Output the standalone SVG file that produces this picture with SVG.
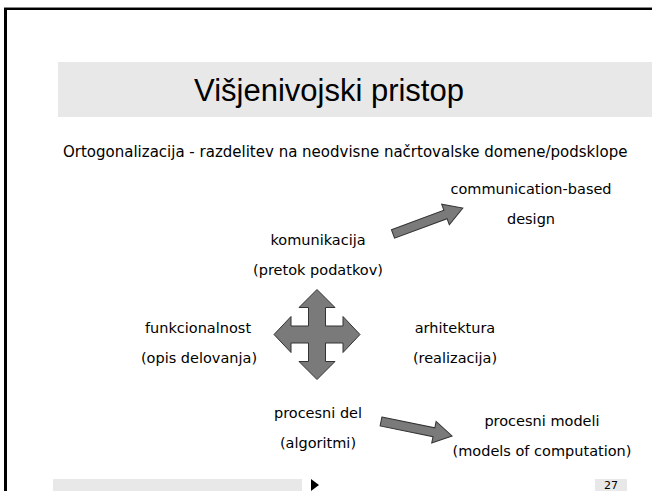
<svg xmlns="http://www.w3.org/2000/svg" width="652" height="491" viewBox="0 0 652 491">
<style>
.t{font-family:"DejaVu Sans",Verdana,sans-serif;font-size:14.5px;fill:#000;text-anchor:middle}
.title{font-family:"Liberation Sans",Arial,sans-serif;font-size:31px;fill:#000;text-anchor:middle}
.arr{fill:#7a7a7a;stroke:#333;stroke-width:1;stroke-linejoin:miter}
.bar{fill:#e8e8e8}
</style>
<rect width="652" height="491" fill="#fff"/>
<rect x="5.5" y="8.5" width="660" height="500" fill="none" stroke="#000" stroke-width="3"/>
<line x1="4" y1="7.5" x2="652" y2="7.5" stroke="#888" stroke-width="1"/>
<g id="title">
<rect class="bar" x="58" y="62" width="594" height="55"/>
<text class="title" x="329" y="101">Višjenivojski pristop</text>
</g>
<g id="subtitle">
<text x="63" y="157" style="font-family:'DejaVu Sans',Verdana,sans-serif;font-size:15px">Ortogonalizacija - razdelitev na neodvisne načrtovalske domene/podsklope</text>
</g>
<g id="communication-based">
<text class="t" x="531" y="194">communication-based</text>
<text class="t" x="531" y="224">design</text>
</g>
<g id="komunikacija">
<text class="t" x="318" y="245">komunikacija</text>
<text class="t" x="318" y="275">(pretok podatkov)</text>
</g>
<g id="funkcionalnost">
<text class="t" x="198" y="333">funkcionalnost</text>
<text class="t" x="199" y="363">(opis delovanja)</text>
</g>
<g id="arhitektura">
<text class="t" x="455" y="333">arhitektura</text>
<text class="t" x="455" y="363">(realizacija)</text>
</g>
<g id="procesni-del">
<text class="t" x="318" y="418">procesni del</text>
<text class="t" x="318" y="448">(algoritmi)</text>
</g>
<g id="procesni-modeli">
<text class="t" x="542" y="426">procesni modeli</text>
<text class="t" x="542" y="456">(models of computation)</text>
</g>
<g id="cross">
<path class="arr" transform="translate(317,334.5)" d="M0,-45 L18,-27 L8.5,-27 L8.5,-8.5 L26,-8.5 L26,-18 L43,0 L26,18 L26,8.5 L8.5,8.5 L8.5,27 L18,27 L0,45 L-18,27 L-8.5,27 L-8.5,8.5 L-26,8.5 L-26,18 L-43,0 L-26,-18 L-26,-8.5 L-8.5,-8.5 L-8.5,-27 L-18,-27 Z"/>
</g>
<g id="connectors">
<path class="arr" transform="translate(393,234) rotate(-20.4)" d="M0,-4.5 L56,-4.5 L56,-11 L74.5,0 L56,11 L56,4.5 L0,4.5 Z"/>
<path class="arr" transform="translate(381,421.5) rotate(11.5)" d="M0,-4.5 L54,-4.5 L54,-11 L72.5,0 L54,11 L54,4.5 L0,4.5 Z"/>
</g>
<g id="footer">
<rect class="bar" x="53" y="479" width="249" height="12"/>
<path d="M311,479 L319,485 L311,491 Z" fill="#000"/>
<rect class="bar" x="595" y="479" width="32" height="12"/>
<text x="611" y="489" style="font-family:'DejaVu Sans',Verdana,sans-serif;font-size:11px;text-anchor:middle">27</text>
</g>
</svg>
